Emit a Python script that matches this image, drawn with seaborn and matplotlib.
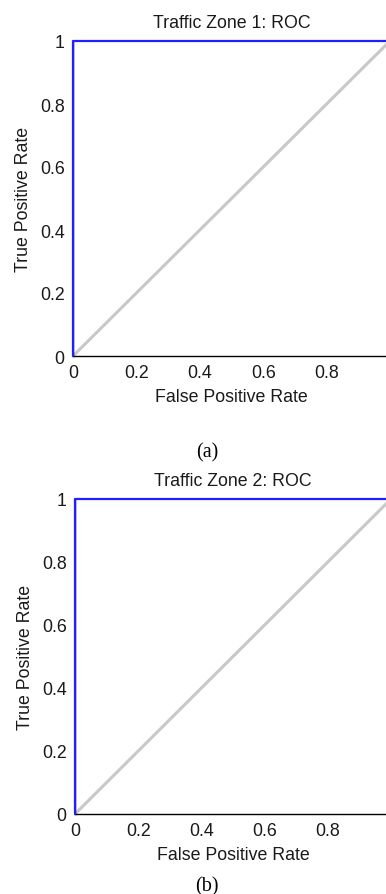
import matplotlib
matplotlib.use("Agg")
import matplotlib.pyplot as plt
import seaborn as sns
import pandas as pd

# ROC operating points (FPR, TPR) per traffic zone
zones = ["Traffic Zone 1", "Traffic Zone 2"]
roc_fpr = [[0.0, 0.0, 1.0], [0.0, 0.0, 1.0]]
roc_tpr = [[0.0, 1.0, 1.0], [0.0, 1.0, 1.0]]

# chance (random classifier) reference line
chance_fpr = [0.0, 0.5, 1.0]
chance_tpr = [0.0, 0.5, 1.0]

ticks = [0, 0.2, 0.4, 0.6, 0.8, 1]
x_tick_labels = ["0", "0.2", "0.4", "0.6", "0.8", ""]
y_tick_labels = ["0", "0.2", "0.4", "0.6", "0.8", "1"]
captions = ["(a)", "(b)"]

sns.set_style("white")
plt.rcParams["font.family"] = ["Liberation Sans", "DejaVu Sans"]

W, H = 386, 895
fig = plt.figure(figsize=(W / 100, H / 100), dpi=100)

# axes boxes in pixels: left, top, right, bottom
boxes = [(73, 42, 390, 357), (75, 500, 391, 815)]
caption_y = [453, 887]

text_col = "#1a1a1a"
fs = 12.8

for i, (zone, box) in enumerate(zip(zones, boxes)):
    l, t, r, b = box
    ax = fig.add_axes([l / W, 1 - b / H, (r - l) / W, (b - t) / H])
    ax.set_facecolor("white")

    chance = pd.DataFrame({"fpr": chance_fpr, "tpr": chance_tpr})
    sns.lineplot(data=chance, x="fpr", y="tpr", sort=False, estimator=None,
                 color="#c8c8c8", lw=2.2, ax=ax, zorder=2)
    roc = pd.DataFrame({"fpr": roc_fpr[i], "tpr": roc_tpr[i]})
    sns.lineplot(data=roc, x="fpr", y="tpr", sort=False, estimator=None,
                 color="#1f1fff", lw=1.6, ax=ax, zorder=4, clip_on=False)

    ax.set_xlim(0, 1)
    ax.set_ylim(0, 1)
    ax.set_xticks(ticks)
    ax.set_xticklabels(x_tick_labels)
    ax.set_yticks(ticks)
    ax.set_yticklabels(y_tick_labels)

    for side in ["top", "right"]:
        ax.spines[side].set_visible(False)
    for side in ["left", "bottom"]:
        ax.spines[side].set_color("black")
        ax.spines[side].set_linewidth(1.0)
        ax.spines[side].set_zorder(3)

    ax.tick_params(axis="x", direction="in", length=3.5, width=1, color="black",
                   labelsize=fs, labelcolor=text_col, pad=6)
    ax.tick_params(axis="y", direction="out", length=2, width=1, color="black",
                   labelsize=fs, labelcolor=text_col, pad=4)

    ax.set_xlabel("False Positive Rate", fontsize=fs, color=text_col, labelpad=5)
    ax.set_ylabel("True Positive Rate", fontsize=fs, color=text_col, labelpad=6)
    ax.set_title(f"{zone}: ROC", fontsize=fs, color=text_col, pad=10)

    fig.text(207 / W, 1 - caption_y[i] / H, captions[i], ha="center", va="center",
             fontsize=14.5, family=["Liberation Serif", "DejaVu Serif"], color="black")

fig.savefig("out.png", dpi=100)
